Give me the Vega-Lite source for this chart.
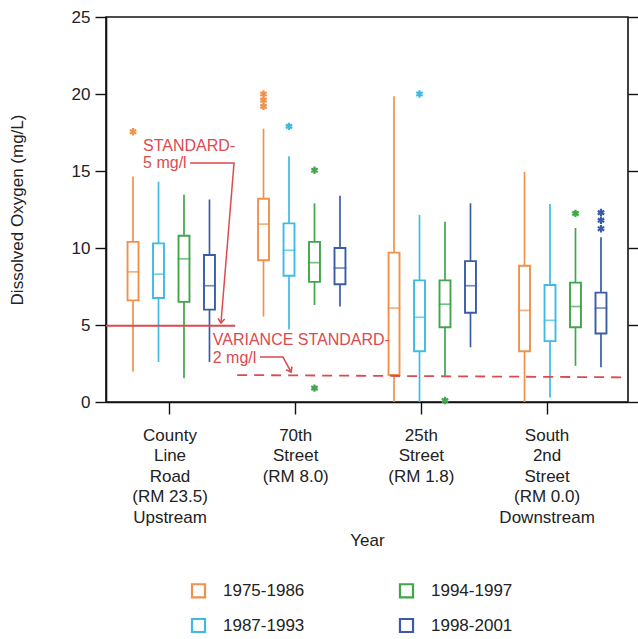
{
  "$schema": "https://vega.github.io/schema/vega-lite/v6.json",
  "width": 522,
  "height": 385,
  "autosize": "none",
  "padding": {"left": 106, "top": 17, "right": 10, "bottom": 237},
  "background": "white",
  "config": {
    "font": "Liberation Sans",
    "view": {"stroke": "#111", "strokeWidth": 1.6},
    "axis": {
      "domainColor": "#111", "domainWidth": 1.6, "tickColor": "#111", "tickWidth": 1.4,
      "labelColor": "#222", "titleColor": "#222", "labelFontSize": 17, "titleFontSize": 17,
      "titleFontWeight": "normal", "grid": false
    },
    "legend": {"labelFontSize": 17, "labelColor": "#222"}
  },
  "datasets": {
    "boxes": [
      {"site": "County|Line|Road|(RM 23.5)|Upstream", "period": "1975-1986", "lo": 1.97, "q1": 6.6, "med": 8.45, "q3": 10.4, "hi": 14.65},
      {"site": "County|Line|Road|(RM 23.5)|Upstream", "period": "1987-1993", "lo": 2.6, "q1": 6.75, "med": 8.3, "q3": 10.3, "hi": 14.3},
      {"site": "County|Line|Road|(RM 23.5)|Upstream", "period": "1994-1997", "lo": 1.55, "q1": 6.5, "med": 9.3, "q3": 10.8, "hi": 13.45},
      {"site": "County|Line|Road|(RM 23.5)|Upstream", "period": "1998-2001", "lo": 2.6, "q1": 6.0, "med": 7.55, "q3": 9.55, "hi": 13.15},
      {"site": "70th|Street|(RM 8.0)", "period": "1975-1986", "lo": 5.55, "q1": 9.2, "med": 11.55, "q3": 13.2, "hi": 17.75},
      {"site": "70th|Street|(RM 8.0)", "period": "1987-1993", "lo": 4.7, "q1": 8.2, "med": 9.85, "q3": 11.6, "hi": 15.95},
      {"site": "70th|Street|(RM 8.0)", "period": "1994-1997", "lo": 6.3, "q1": 7.8, "med": 9.05, "q3": 10.4, "hi": 12.9},
      {"site": "70th|Street|(RM 8.0)", "period": "1998-2001", "lo": 6.2, "q1": 7.65, "med": 8.7, "q3": 10.0, "hi": 13.4},
      {"site": "25th|Street|(RM 1.8)", "period": "1975-1986", "lo": 0, "q1": 1.75, "med": 6.1, "q3": 9.7, "hi": 19.85},
      {"site": "25th|Street|(RM 1.8)", "period": "1987-1993", "lo": 0, "q1": 3.3, "med": 5.5, "q3": 7.9, "hi": 12.15},
      {"site": "25th|Street|(RM 1.8)", "period": "1994-1997", "lo": 1.7, "q1": 4.85, "med": 6.35, "q3": 7.9, "hi": 11.7},
      {"site": "25th|Street|(RM 1.8)", "period": "1998-2001", "lo": 3.55, "q1": 5.8, "med": 7.55, "q3": 9.15, "hi": 12.9},
      {"site": "South|2nd|Street|(RM 0.0)|Downstream", "period": "1975-1986", "lo": 0, "q1": 3.3, "med": 5.95, "q3": 8.85, "hi": 14.95},
      {"site": "South|2nd|Street|(RM 0.0)|Downstream", "period": "1987-1993", "lo": 0.3, "q1": 3.95, "med": 5.3, "q3": 7.6, "hi": 12.85},
      {"site": "South|2nd|Street|(RM 0.0)|Downstream", "period": "1994-1997", "lo": 2.35, "q1": 4.85, "med": 6.2, "q3": 7.75, "hi": 11.3},
      {"site": "South|2nd|Street|(RM 0.0)|Downstream", "period": "1998-2001", "lo": 2.25, "q1": 4.45, "med": 6.1, "q3": 7.1, "hi": 10.7}
    ],
    "outliers": [
      {"site": "County|Line|Road|(RM 23.5)|Upstream", "period": "1975-1986", "v": 17.55},
      {"site": "70th|Street|(RM 8.0)", "period": "1975-1986", "v": 20.0},
      {"site": "70th|Street|(RM 8.0)", "period": "1975-1986", "v": 19.6},
      {"site": "70th|Street|(RM 8.0)", "period": "1975-1986", "v": 19.2},
      {"site": "70th|Street|(RM 8.0)", "period": "1987-1993", "v": 17.9},
      {"site": "70th|Street|(RM 8.0)", "period": "1994-1997", "v": 15.05},
      {"site": "70th|Street|(RM 8.0)", "period": "1994-1997", "v": 0.9},
      {"site": "25th|Street|(RM 1.8)", "period": "1987-1993", "v": 20.0},
      {"site": "25th|Street|(RM 1.8)", "period": "1994-1997", "v": 0.1},
      {"site": "South|2nd|Street|(RM 0.0)|Downstream", "period": "1994-1997", "v": 12.25},
      {"site": "South|2nd|Street|(RM 0.0)|Downstream", "period": "1998-2001", "v": 12.3},
      {"site": "South|2nd|Street|(RM 0.0)|Downstream", "period": "1998-2001", "v": 11.8},
      {"site": "South|2nd|Street|(RM 0.0)|Downstream", "period": "1998-2001", "v": 11.25}
    ],
    "standards": [
      {"name": "standard", "u1": 0, "u2": 0.99, "v1": 4.95, "v2": 4.95, "style": "solid"},
      {"name": "variance", "u1": 1.005, "u2": 4, "v1": 1.75, "v2": 1.6, "style": "dashed"}
    ],
    "notes": [
      {"text": "STANDARD-", "u": 0.284, "v": 16.65},
      {"text": "5 mg/l", "u": 0.284, "v": 15.5},
      {"text": "VARIANCE STANDARD-", "u": 0.818, "v": 4.03},
      {"text": "2 mg/l", "u": 0.818, "v": 2.88}
    ],
    "arrows": [
      {"id": "a1", "seq": 1, "u": 0.644, "v": 15.52},
      {"id": "a1", "seq": 2, "u": 0.981, "v": 15.52},
      {"id": "a1", "seq": 3, "u": 0.881, "v": 5.13},
      {"id": "a2", "seq": 1, "u": 1.18, "v": 2.92},
      {"id": "a2", "seq": 2, "u": 1.356, "v": 2.92},
      {"id": "a2", "seq": 3, "u": 1.418, "v": 1.95}
    ],
    "heads": [
      {"id": "a1", "u": 0.881, "v": 5.13, "angle": 4.6},
      {"id": "a2", "u": 1.418, "v": 1.95, "angle": -28}
    ]
  },
  "layer": [
    {
      "data": {"name": "boxes"},
      "encoding": {
        "x": {
          "field": "site", "type": "nominal", "sort": null,
          "scale": {"paddingInner": 0, "paddingOuter": 0},
          "axis": null
        },
        "xOffset": {
          "field": "period", "type": "nominal",
          "scale": {"domain": ["1975-1986", "1987-1993", "1994-1997", "1998-2001"], "paddingInner": 0.57, "paddingOuter": 0.845}
        },
        "stroke": {
          "field": "period", "type": "nominal",
          "scale": {
            "domain": ["1975-1986", "1987-1993", "1994-1997", "1998-2001"],
            "range": ["#f0914c", "#3dbbe3", "#3fa64c", "#3a5ca8"]
          },
          "legend": {
            "title": null, "orient": "none", "legendX": 84, "legendY": 565, "columns": 2,
            "columnPadding": 90, "rowPadding": 12, "symbolType": "square", "symbolSize": 170,
            "symbolStrokeWidth": 2.2, "symbolFillColor": "white", "labelOffset": 16, "labelFontSize": 17
          }
        }
      },
      "layer": [
        {
          "mark": {"type": "rule", "strokeWidth": 1.7},
          "encoding": {
            "y": {"field": "lo", "type": "quantitative", "scale": {"domain": [0, 25], "nice": false},
              "axis": {"title": "Dissolved Oxygen (mg/L)", "values": [0, 5, 10, 15, 20, 25], "tickSize": 11, "labelPadding": 5, "titlePadding": 45}},
            "y2": {"field": "q1"}
          }
        },
        {
          "mark": {"type": "rule", "strokeWidth": 1.7},
          "encoding": {"y": {"field": "q3", "type": "quantitative"}, "y2": {"field": "hi"}}
        },
        {
          "mark": {"type": "bar", "filled": false, "strokeWidth": 1.9},
          "encoding": {"y": {"field": "q1", "type": "quantitative"}, "y2": {"field": "q3"}}
        },
        {
          "mark": {"type": "tick", "filled": false, "thickness": 0.01, "strokeWidth": 1.7, "size": 11},
          "encoding": {"y": {"field": "med", "type": "quantitative"}}
        },
        {
          "data": {"name": "outliers"},
          "mark": {"type": "point", "shape": "M0,-1L0,1M-0.87,-0.5L0.87,0.5M-0.87,0.5L0.87,-0.5", "filled": false, "size": 55, "strokeWidth": 2.2, "opacity": 1},
          "encoding": {"y": {"field": "v", "type": "quantitative"}}
        }
      ]
    },
    {
      "data": {"name": "boxes"},
      "mark": {"type": "rule", "opacity": 0},
      "encoding": {
        "x": {
          "field": "site", "type": "nominal", "sort": null,
          "scale": {"paddingInner": 0, "paddingOuter": 0.0765, "align": 0.06},
          "axis": {
            "title": "Year", "labelAngle": 0, "labelExpr": "split(datum.label, '|')",
            "labelLineHeight": 20.5, "labelBaseline": "top", "tickSize": 12, "labelPadding": 13,
            "titlePadding": 7, "labelFontSize": 17
          }
        },
        "y": {"field": "med", "type": "quantitative", "scale": {"domain": [0, 25], "nice": false},
          "axis": {"labelExpr": "''", "title": null, "values": [0, 5, 10, 15, 20, 25], "tickSize": 10, "domain": false}}
      }
    },
    {
      "encoding": {
        "y": {"field": "v", "type": "quantitative", "scale": {"domain": [0, 25], "nice": false}, "axis": null}
      },
      "layer": [
        {
          "data": {"name": "standards"},
          "mark": {"type": "rule", "color": "#dc4a4e", "strokeWidth": 1.8},
          "encoding": {
            "x": {"field": "u1", "type": "quantitative", "scale": {"domain": [0, 4], "nice": false, "zero": false}, "axis": null},
            "x2": {"field": "u2"},
            "y": {"field": "v1", "type": "quantitative", "axis": null},
            "y2": {"field": "v2"},
            "strokeDash": {"field": "style", "type": "nominal", "scale": {"domain": ["solid", "dashed"], "range": [[1, 0], [10, 7]]}, "legend": null}
          }
        },
        {
          "data": {"name": "arrows"},
          "mark": {"type": "line", "color": "#dc4a4e", "strokeWidth": 1.5},
          "encoding": {
            "x": {"field": "u", "type": "quantitative"},
            "detail": {"field": "id"},
            "order": {"field": "seq"}
          }
        },
        {
          "data": {"name": "heads"},
          "mark": {"type": "point", "shape": "M-1,-1.3L0,0L1,-1.3", "filled": false, "size": 45, "color": "#dc4a4e", "strokeWidth": 1.6, "opacity": 1},
          "encoding": {
            "x": {"field": "u", "type": "quantitative"},
            "angle": {"field": "angle", "type": "quantitative", "scale": null}
          }
        },
        {
          "data": {"name": "notes"},
          "mark": {"type": "text", "align": "left", "baseline": "middle", "fontSize": 16, "color": "#dc4a4e"},
          "encoding": {
            "x": {"field": "u", "type": "quantitative"},
            "text": {"field": "text"}
          }
        }
      ]
    }
  ],
  "resolve": {"scale": {"x": "independent", "y": "independent"}, "axis": {"x": "independent", "y": "independent"}}
}
